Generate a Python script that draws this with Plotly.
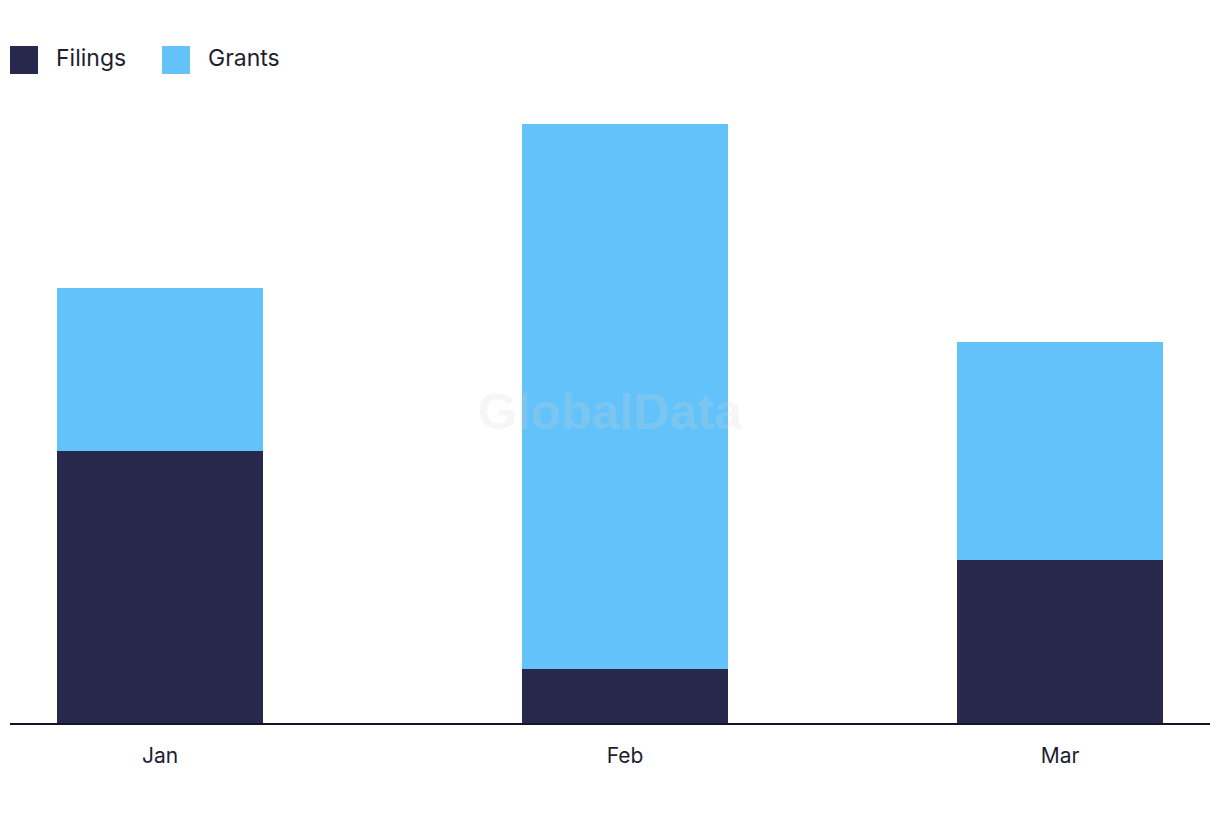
import plotly.graph_objects as go

months = ["2024-01-01", "2024-02-01", "2024-03-01"]
month_labels = ["Jan", "Feb", "Mar"]
filings = [5, 1, 3]
grants = [3, 10, 4]

FILINGS_COLOR = "#28284C"
GRANTS_COLOR = "#62C2F9"
TEXT_COLOR = "#1E1E30"
FONT = "Inter, Noto Sans, sans-serif"

bar_width = 13.73 * 86400000  # ms

fig = go.Figure()
fig.add_trace(go.Bar(x=months, y=filings, name="Filings", marker_color=FILINGS_COLOR,
                     marker_line_width=0, width=bar_width, showlegend=False))
fig.add_trace(go.Bar(x=months, y=grants, name="Grants", marker_color=GRANTS_COLOR,
                     marker_line_width=0, width=bar_width, showlegend=False))

# page body has an 8px margin, so margins are offset to compensate
fig.update_layout(
    barmode="stack",
    width=1220, height=822,
    margin=dict(l=2, r=18, t=62, b=107),
    plot_bgcolor="white", paper_bgcolor="white",
    font=dict(family=FONT, color=TEXT_COLOR, size=21),
)
fig.update_xaxes(
    type="date", range=["2023-12-22", "2024-03-11"],
    tickvals=months, ticktext=month_labels,
    showgrid=False, zeroline=False,
    showline=True, linecolor="#14142A", linewidth=2,
    ticks="", ticklabelstandoff=13,
    tickfont=dict(size=21, color=TEXT_COLOR),
)
fig.update_yaxes(range=[0, 12], visible=False, showgrid=False, zeroline=False)

# legend drawn by hand so the swatches are the same size as the original
legend_items = [("Filings", FILINGS_COLOR, 10), ("Grants", GRANTS_COLOR, 162)]
for label, color, x0 in legend_items:
    fig.add_shape(type="rect", xref="paper", yref="paper",
                  x0=(x0 - 10) / 1200, x1=(x0 + 18) / 1200,
                  y0=(723 - 74) / 653, y1=(723 - 46) / 653,
                  fillcolor=color, line_width=0, layer="above")
    fig.add_annotation(text=label, xref="paper", yref="paper",
                       x=(x0 + 34) / 1200, y=(723 - 58) / 653,
                       xanchor="left", yanchor="middle", showarrow=False,
                       font=dict(size=23, color=TEXT_COLOR, family=FONT))

# watermark
fig.add_annotation(text="<b>GlobalData</b>", xref="paper", yref="paper",
                   x=0.5, y=(723 - 412) / 653, showarrow=False,
                   font=dict(size=50, color="rgba(215,215,215,0.22)",
                             family="Liberation Sans, Arial, sans-serif"))

fig.write_html("out.html")
